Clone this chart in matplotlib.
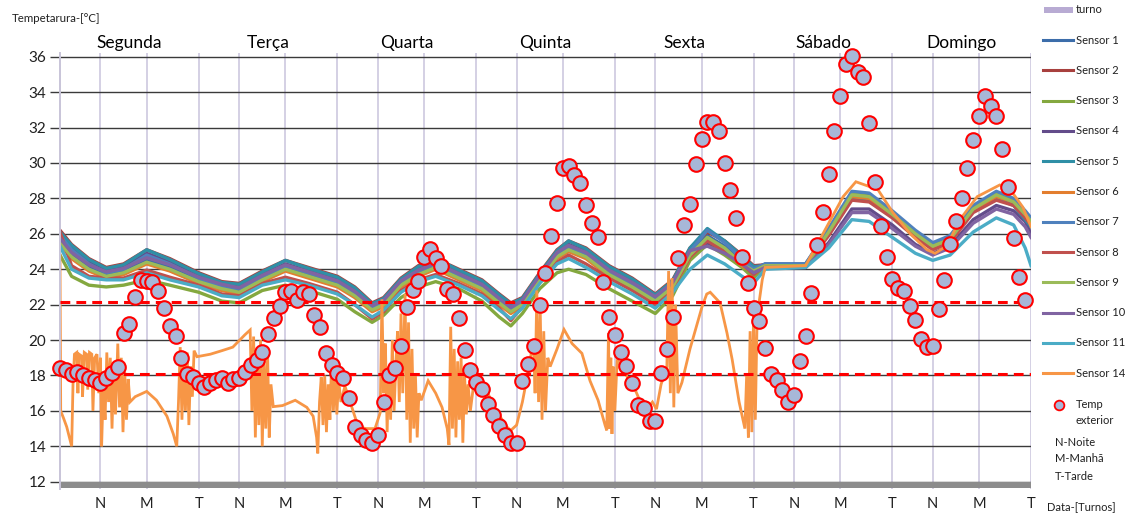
import numpy as np
import matplotlib
matplotlib.use("Agg")
import matplotlib.pyplot as plt
from matplotlib.lines import Line2D
from matplotlib.patches import Rectangle

plt.rcParams['font.family'] = ['Lato', 'DejaVu Sans']

# ---------------- data ----------------
days = ["Segunda", "Terça", "Quarta", "Quinta", "Sexta", "Sábado", "Domingo"]
shift_labels = ["N", "M", "T"]
shift_end_hours = [7, 15, 24]          # end of each shift inside a day
y_ticks = [12, 14, 16, 18, 20, 22, 24, 26, 28, 30, 32, 34, 36]
ref_lines = [22.15, 18.1]

# exterior temperature, hourly (hour 0 .. 167)
temp_ext = [
    18.4, 18.3, 18.07, 18.18, 18.03, 17.84, 17.75, 17.6, 17.84, 18.16, 18.5, 20.42,
    20.9, 22.45, 23.4, 23.35, 23.3, 22.77, 21.8, 20.8, 20.25, 19.0, 18.1, 17.93,
    17.6, 17.33, 17.56, 17.75, 17.84, 17.56, 17.78, 17.84, 18.21, 18.59, 18.87, 19.34,
    20.32, 21.26, 21.94, 22.7, 22.77, 22.26, 22.7, 22.58, 21.4, 20.72, 19.25, 18.59,
    18.16, 17.84, 16.71, 15.1, 14.64, 14.36, 14.2, 14.64, 16.52, 18.03, 18.4, 19.66,
    21.88, 22.83, 23.35, 24.67, 25.12, 24.62, 24.2, 22.87, 22.6, 21.26, 19.44, 18.3,
    17.65, 17.22, 16.37, 15.77, 15.16, 14.64, 14.17, 14.2, 17.69, 18.63, 19.68, 21.98,
    23.77, 25.88, 27.72, 29.73, 29.85, 29.32, 28.89, 27.63, 26.63, 25.84, 23.3, 21.32,
    20.29, 19.31, 18.53, 17.6, 16.33, 16.15, 15.43, 15.43, 18.12, 19.48, 21.32, 24.62,
    26.5, 27.68, 29.94, 31.34, 32.3, 32.33, 31.82, 29.98, 28.47, 26.91, 24.71, 23.2,
    21.83, 21.08, 19.53, 18.08, 17.75, 17.2, 16.5, 16.9, 18.8, 20.23, 22.64, 25.37,
    27.25, 29.36, 31.82, 33.78, 35.59, 36.06, 35.15, 34.87, 32.24, 28.94, 26.46, 24.71,
    23.45, 22.92, 22.77, 21.92, 21.13, 20.04, 19.63, 19.68, 21.77, 23.39, 25.4, 26.72,
    28.0, 29.7, 31.3, 32.67, 33.8, 33.22, 32.67, 30.77, 28.66, 25.75, 23.58, 22.26,
]
ext_hours = list(range(len(temp_ext)))

# indoor sensors, read at these hours
sensor_hours = [0, 2, 5, 8, 11, 15, 19, 24, 28, 31, 35, 39, 43, 48, 51, 54, 56, 59, 62, 65,
                69, 73, 76, 78, 80, 83, 86, 88, 91, 95, 99, 103, 106, 109, 112, 115, 118, 120,
                122, 129, 133, 137, 140, 144, 148, 151, 154, 158, 162, 165, 167, 168]

sensor_1 = [25.6, 24.8, 24.1, 23.7, 23.9, 24.5, 24.1, 23.4, 23.0, 22.8, 23.5, 24.1, 23.7, 23.2, 22.6,
            21.8, 22.1, 23.2, 23.8, 24.2, 23.6, 23.0, 22.2, 21.7, 22.1, 23.5, 24.8, 25.2, 24.8, 23.8,
            23.1, 22.3, 23.1, 24.9, 25.9, 25.3, 24.4, 24.0,
            24.3, 24.3, 26.2, 28.3, 28.2, 27.2, 26.1, 25.4, 25.8, 27.5, 28.3, 27.9, 27.2, 26.8]
sensor_2 = [26.2, 25.4, 24.6, 24.1, 24.3, 25.1, 24.6, 23.8, 23.3, 23.2, 23.9, 24.5, 24.1, 23.6, 23.0,
            22.1, 22.4, 23.5, 24.2, 24.6, 24.0, 23.4, 22.6, 22.1, 22.4, 23.8, 25.1, 25.6, 25.2, 24.2,
            23.5, 22.6, 23.4, 25.2, 26.1, 25.6, 24.8, 24.2,
            24.25, 24.25, 26.0, 28.0, 27.9, 27.0, 25.9, 25.2, 25.6, 27.3, 28.0, 27.7, 27.0, 26.6]
sensor_3 = [24.8, 23.6, 23.1, 23.0, 23.1, 23.4, 23.1, 22.7, 22.2, 22.1, 22.8, 23.1, 22.8, 22.3, 21.6,
            21.0, 21.4, 22.4, 23.0, 23.3, 22.9, 22.2, 21.3, 20.8, 21.5, 22.9, 23.8, 24.0, 23.7, 22.9,
            22.2, 21.5, 22.5, 24.5, 25.4, 24.8, 24.1, 23.5,
            24.2, 24.2, 26.2, 28.3, 28.1, 27.1, 26.0, 25.3, 25.7, 27.5, 28.3, 27.9, 27.1, 26.7]
sensor_4 = [26.0, 25.2, 24.4, 23.9, 24.1, 24.9, 24.4, 23.6, 23.1, 23.0, 23.7, 24.3, 23.9, 23.4, 22.8,
            21.9, 22.2, 23.3, 24.0, 24.4, 23.8, 23.2, 22.4, 21.9, 22.2, 23.6, 24.9, 25.4, 25.0, 24.0,
            23.3, 22.4, 23.2, 24.8, 25.5, 25.1, 24.4, 23.9,
            24.1, 24.1, 25.5, 27.4, 27.4, 26.5, 25.4, 24.9, 25.3, 26.8, 27.6, 27.3, 26.7, 26.0]
sensor_5 = [26.1, 25.35, 24.55, 24.05, 24.25, 25.1, 24.55, 23.75, 23.25, 23.15, 23.85, 24.5, 24.05, 23.55, 22.95,
            22.05, 22.35, 23.45, 24.15, 24.6, 23.95, 23.35, 22.55, 22.05, 22.35, 23.75, 25.05, 25.6, 25.15, 24.15,
            23.45, 22.55, 23.35, 25.2, 26.3, 25.6, 24.75, 24.15,
            24.2, 24.2, 26.0, 28.0, 27.9, 27.0, 25.9, 25.2, 25.6, 27.3, 28.0, 27.6, 26.8, 26.4]
sensor_6 = [25.4, 24.6, 23.9, 23.5, 23.7, 24.3, 23.9, 23.2, 22.8, 22.6, 23.3, 23.9, 23.5, 23.0, 22.4,
            21.6, 21.9, 23.0, 23.6, 24.0, 23.4, 22.8, 22.0, 21.5, 21.9, 23.3, 24.6, 25.0, 24.6, 23.6,
            22.9, 22.1, 22.9, 24.7, 25.7, 25.1, 24.2, 23.8,
            24.2, 24.2, 26.0, 28.1, 28.0, 27.0, 25.9, 25.2, 25.6, 27.3, 28.1, 27.8, 27.1, 26.7]
sensor_7 = [25.9, 25.1, 24.3, 23.8, 24.0, 24.8, 24.3, 23.5, 23.0, 22.9, 23.6, 24.2, 23.8, 23.3, 22.7,
            21.8, 22.1, 23.2, 23.9, 24.3, 23.7, 23.1, 22.3, 21.8, 22.1, 23.5, 24.8, 25.3, 24.9, 23.9,
            23.2, 22.3, 23.1, 25.0, 26.2, 25.5, 24.6, 24.0,
            24.3, 24.3, 26.3, 28.4, 28.3, 27.3, 26.2, 25.5, 25.9, 27.6, 28.4, 28.0, 27.3, 26.9]
sensor_8 = [26.1, 24.2, 23.6, 23.5, 23.5, 23.95, 23.55, 23.1, 22.6, 22.5, 23.2, 23.55, 23.2, 22.7, 22.0,
            21.2, 21.6, 22.8, 23.4, 23.7, 23.2, 22.6, 21.8, 21.1, 21.9, 23.3, 24.4, 24.8, 24.3, 23.5,
            22.8, 22.0, 22.9, 24.7, 25.6, 25.0, 24.3, 23.7,
            24.2, 24.2, 25.9, 27.9, 27.8, 26.9, 25.8, 25.1, 25.5, 27.2, 27.9, 27.6, 26.9, 26.5]
sensor_9 = [25.5, 24.7, 24.0, 23.6, 23.8, 24.4, 24.0, 23.3, 22.9, 22.7, 23.4, 24.0, 23.6, 23.1, 22.5,
            21.7, 22.0, 23.1, 23.7, 24.1, 23.5, 22.9, 22.1, 21.6, 22.0, 23.4, 24.7, 25.1, 24.7, 23.7,
            23.0, 22.2, 23.0, 24.8, 25.8, 25.2, 24.3, 23.9,
            24.2, 24.2, 26.1, 28.2, 28.1, 27.1, 26.0, 25.3, 25.7, 27.4, 28.2, 27.8, 27.1, 26.7]
sensor_10 = [25.75, 24.95, 24.25, 23.85, 24.05, 24.65, 24.25, 23.55, 23.15, 22.95, 23.65, 24.25, 23.85, 23.35, 22.75,
             21.95, 22.25, 23.35, 23.95, 24.35, 23.75, 23.15, 22.35, 21.85, 22.25, 23.65, 24.95, 25.35, 24.95, 23.95,
             23.25, 22.45, 23.25, 25.05, 25.3, 24.9, 24.3, 23.8,
             24.1, 24.1, 25.4, 27.2, 27.2, 26.3, 25.3, 24.8, 25.2, 26.6, 27.4, 27.1, 26.4, 25.8]
sensor_11 = [25.3, 24.0, 23.5, 23.4, 23.4, 23.8, 23.4, 23.0, 22.5, 22.4, 23.1, 23.4, 23.1, 22.6, 22.0,
             21.3, 21.7, 22.7, 23.3, 23.6, 23.1, 22.5, 21.7, 21.2, 21.8, 23.2, 24.3, 24.6, 24.1, 23.3,
             22.6, 21.8, 22.7, 24.0, 24.8, 24.3, 23.6, 23.2,
             24.0, 24.1, 25.2, 26.8, 26.7, 25.8, 24.9, 24.5, 24.8, 26.1, 26.9, 26.5, 25.2, 24.2]

# sensor 14 (hour, value)
s14_hours = [0.0, 0.12, 0.6, 1.16, 2.02, 2.25, 2.5, 2.9, 3.1, 3.3, 3.75, 3.9, 4.2, 4.6, 4.8, 5.1, 5.5, 5.7,
             6.0, 6.4, 6.7, 7.0, 7.2, 7.5, 7.8, 8.1, 8.4, 8.7, 9.0, 9.3, 9.6, 10.0, 10.3, 10.6, 10.9, 11.2,
             11.5, 11.8, 12.1, 13.0, 15.0, 16.7, 18.5, 19.6, 20.2, 20.5, 20.8, 21.1, 21.4, 21.7, 22.0, 22.3,
             22.6, 22.9, 23.2, 23.7, 26.0, 28.0, 29.9, 31.1, 32.0, 32.9, 33.2, 33.5, 33.8, 34.1, 34.4, 34.7,
             35.0, 35.3, 35.6, 35.9, 36.2, 36.5, 36.9, 38.5, 40.7, 42.7, 43.8, 44.4, 44.6, 44.9, 45.2, 45.5,
             45.8, 46.1, 46.4, 46.7, 47.0, 47.3, 47.6, 47.9, 48.2, 48.6, 49.3, 50.5, 51.6, 53.0, 54.5, 55.4,
             55.7, 56.0, 56.3, 56.6, 56.9, 57.2, 57.5, 57.8, 58.1, 58.4, 58.7, 59.0, 59.3, 59.7, 60.0, 60.3,
             60.6, 60.9, 61.2, 61.5, 61.8, 62.1, 62.5, 63.7, 65.0, 66.1, 67.0, 67.3, 67.6, 67.9, 68.2, 68.5,
             68.8, 69.1, 69.4, 69.7, 70.0, 70.3, 70.6, 71.0, 71.8, 73.0, 74.0, 75.5, 77.3, 78.0, 79.0, 80.0,
             81.0, 81.9, 82.2, 82.5, 82.8, 83.1, 83.4, 83.7, 84.0, 84.4, 84.8, 86.0, 87.2, 88.6, 90.3, 91.7,
             93.1, 94.3, 94.6, 94.9, 95.1, 95.3, 95.5, 95.7, 96.0, 96.4, 98.0, 99.5, 100.3, 101.5, 102.5, 103.2,
             104.0, 105.0, 105.3, 105.6, 105.9, 106.2, 106.5, 106.9, 107.6, 109.0, 111.1, 111.9, 112.5, 114.2,
             115.4, 116.3, 117.5, 118.5, 118.8, 119.1, 119.4, 119.7, 120.0, 120.3, 120.6, 120.9, 121.5, 122.0,
             129.0, 135.5, 137.7, 138.9, 141.5, 144.1, 147.1, 150.0, 151.4, 153.4, 155.7, 158.7, 162.6, 164.4,
             166.6, 168.0]
s14_values = [24.8, 16.0, 15.6, 15.1, 14.0, 17.5, 19.2, 19.3, 17.0, 19.2, 19.1, 16.8, 19.3, 19.2, 17.2, 19.3, 19.2, 16.0,
              19.0, 19.2, 17.0, 19.0, 14.0, 17.5, 15.5, 19.3, 16.5, 19.0, 15.0, 18.5, 15.8, 19.8, 16.2, 19.0, 14.8, 18.2,
              15.5, 17.8, 16.5, 16.8, 17.1, 16.6, 15.7, 14.7, 14.0, 16.5, 19.6, 15.5, 19.0, 16.0, 19.3, 15.2,
              18.5, 16.8, 19.4, 19.06, 19.2, 19.4, 19.6, 20.0, 20.3, 20.57, 16.0, 20.2, 14.5, 19.5, 15.2, 20.0,
              14.0, 18.8, 15.0, 19.5, 14.5, 17.5, 16.24, 16.3, 16.6, 16.2, 15.7, 14.5, 13.6, 16.5, 17.9, 15.2,
              18.0, 14.8, 17.5, 15.5, 19.0, 16.0, 18.2, 15.8, 17.8, 16.5, 17.4, 16.2, 15.1, 15.0, 15.0, 15.9,
              22.3, 17.0, 19.8, 14.8, 18.5, 15.5, 20.0, 16.0, 18.5, 20.5, 16.5, 21.5, 17.0, 22.6, 15.5, 21.0,
              14.2, 19.5, 15.0, 18.0, 14.5, 17.0, 16.6, 17.7, 17.0, 16.2, 15.0, 14.07, 20.75, 15.0, 19.5, 14.5,
              18.8, 15.5, 19.0, 14.2, 18.0, 15.8, 17.5, 16.0, 18.1, 17.6, 17.0, 16.0, 15.1, 14.9, 15.2, 16.5,
              18.2, 20.0, 17.0, 22.8, 16.5, 21.5, 15.5, 20.5, 16.0, 19.0, 18.5, 19.5, 20.6, 19.8, 19.25, 17.7,
              16.6, 15.2, 14.9, 20.4, 15.0, 19.0, 14.7, 18.5, 16.0, 18.9, 18.0, 17.2, 16.6, 16.1, 16.5, 16.1,
              17.5, 18.5, 23.9, 17.0, 23.5, 16.2, 22.0, 17.0, 17.6, 19.5, 21.9, 22.6, 22.7, 22.1,
              20.4, 18.9, 16.5, 15.0, 18.0, 14.5, 20.5, 14.8, 21.5, 15.5, 21.0, 22.0, 23.4, 24.1,
              24.2, 28.1, 28.94, 28.8, 28.5, 27.2, 26.0, 25.1, 24.9, 25.3, 26.8, 28.1, 28.76, 28.5,
              27.5, 26.4]

sensor_names = ["Sensor 1", "Sensor 2", "Sensor 3", "Sensor 4", "Sensor 5", "Sensor 6",
                "Sensor 7", "Sensor 8", "Sensor 9", "Sensor 10", "Sensor 11"]
sensor_data = [sensor_1, sensor_2, sensor_3, sensor_4, sensor_5, sensor_6,
               sensor_7, sensor_8, sensor_9, sensor_10, sensor_11]
sensor_colors = ["#3C6DAA", "#A8403E", "#84A83F", "#634C8A", "#2F8FA6", "#E37E2E",
                 "#4F81BD", "#C0504D", "#9BBB59", "#8064A2", "#4BACC6"]
s14_color = "#F79646"

for d in sensor_data:
    assert len(d) == len(sensor_hours)
assert len(s14_hours) == len(s14_values)

# ---------------- figure ----------------
W, H = 1126, 520
fig = plt.figure(figsize=(W / 100, H / 100), dpi=100)
ax_left, ax_right = 60, 1031
ymin, ymax = 11.6, 36.2
ax_bottom_px, ax_top_px = 488.8, 53.2
ax = fig.add_axes([ax_left / W, 1 - ax_bottom_px / H, (ax_right - ax_left) / W,
                   (ax_bottom_px - ax_top_px) / H])
ax.set_xlim(0, 168)
ax.set_ylim(ymin, ymax)

# grid
xt = [d * 24 + h for d in range(7) for h in shift_end_hours]
xl = [shift_labels[i % 3] for i in range(len(xt))]
ax.set_xticks(xt)
ax.set_xticklabels(xl, fontsize=10.5)
ax.set_yticks(y_ticks)
ax.set_yticklabels([str(v) for v in y_ticks], fontsize=11)
ax.set_axisbelow(True)
for v in y_ticks:
    ax.axhline(v, color="#3A3A3A", lw=1.0, zorder=0.5)
for v in xt:
    ax.axvline(v, color="#D4D0E4", lw=1.4, zorder=0.4)
ax.tick_params(axis="x", length=0, pad=6, colors="#202020")
ax.tick_params(axis="y", length=7, width=1, color="#3A3A3A", pad=3, labelcolor="#202020")
for s in ["top", "right", "bottom"]:
    ax.spines[s].set_visible(False)
ax.spines["left"].set_color("#C8C4D8")
ax.spines["left"].set_linewidth(1.4)

# bottom band (axis)
ax.axhspan(ymin + 0.02, 12.0, color="#8C8C8C", zorder=0.6, lw=0)

# sensor lines
for name, d, c in zip(sensor_names, sensor_data, sensor_colors):
    ax.plot(sensor_hours, d, color=c, lw=2.4, zorder=2, solid_joinstyle="round")
ax.plot(s14_hours, s14_values, color=s14_color, lw=2.0, zorder=2.5, solid_joinstyle="miter")

# reference dashed lines
for v in ref_lines:
    ax.axhline(v, color="#FF0000", lw=2.2, dashes=(3.2, 2.0), zorder=3)

# exterior temperature markers
ax.plot(ext_hours, temp_ext, linestyle="none", marker="o", ms=10.5, mfc="#A7B7D8",
        mec="#FF0000", mew=1.5, zorder=4, clip_on=False)

# day names
for i, dname in enumerate(days):
    ax.text(12 + 24 * i, 36.78, dname, ha="center", va="center", fontsize=12.5,
            color="#000000", clip_on=False)

# axis titles
fig.text(12 / W, 1 - 18 / H, "Tempetarura-[°C]", fontsize=8.3, va="center", ha="left", color="#202020")
fig.text(1047 / W, 1 - 508 / H, "Data-[Turnos]", fontsize=8.0, va="center", ha="left", color="#202020")

# legend (drawn manually)
def fx(x):
    return x / W

def fy(y):
    return 1 - y / H

LEG_FS = 8.0
fig.add_artist(Rectangle((fx(1044), fy(13)), fx(1073) - fx(1044), fy(7) - fy(13),
                         transform=fig.transFigure, color="#B8ABD3", lw=0))
fig.text(fx(1076), fy(9.5), "turno", fontsize=LEG_FS, va="center", ha="left", color="#202020")
leg_names = sensor_names + ["Sensor 14"]
leg_colors = sensor_colors + [s14_color]
for i, (n, c) in enumerate(zip(leg_names, leg_colors)):
    y = 40 + 30.3 * i
    fig.add_artist(Line2D([fx(1043), fx(1073)], [fy(y), fy(y)], transform=fig.transFigure,
                          color=c, lw=2.2))
    fig.text(fx(1076), fy(y), n, fontsize=LEG_FS, va="center", ha="left", color="#202020")
fig.add_artist(Line2D([fx(1059)], [fy(405)], transform=fig.transFigure, linestyle="none",
                      marker="o", ms=7, mfc="#A7B7D8", mec="#FF0000", mew=1.3))
fig.text(fx(1076), fy(404), "Temp", fontsize=LEG_FS, va="center", ha="left", color="#202020")
fig.text(fx(1076), fy(421), "exterior", fontsize=LEG_FS, va="center", ha="left", color="#202020")
fig.text(fx(1055), fy(442), "N-Noite", fontsize=LEG_FS, va="center", ha="left", color="#202020")
fig.text(fx(1055), fy(459), "M-Manhã", fontsize=LEG_FS, va="center", ha="left", color="#202020")
fig.text(fx(1055), fy(476), "T-Tarde", fontsize=LEG_FS, va="center", ha="left", color="#202020")

fig.savefig("out.png", dpi=100)
